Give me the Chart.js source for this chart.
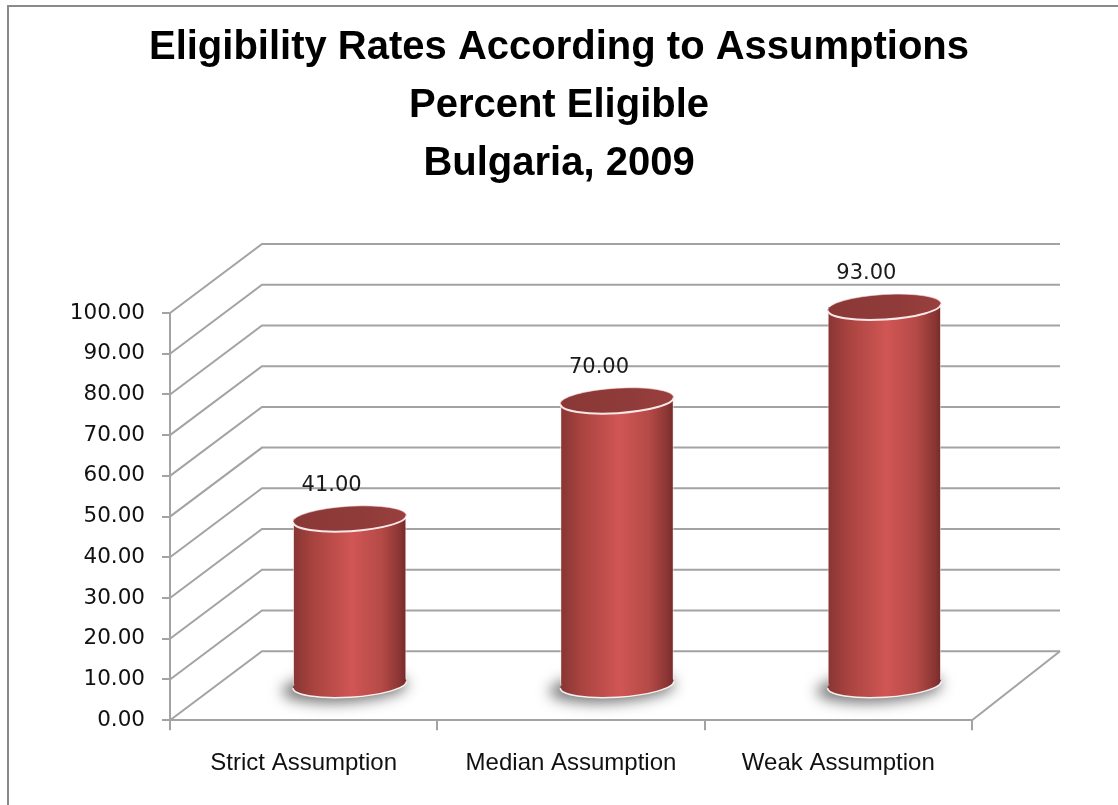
<!DOCTYPE html>
<html><head><meta charset="utf-8">
<script src="https://cdn.jsdelivr.net/npm/chart.js@4.4.1/dist/chart.umd.min.js"></script>
<style>html,body{margin:0;padding:0;background:#fff}#wrap{position:relative;width:1118px;height:805px}</style>
</head><body><div id="wrap"><canvas id="c"></canvas></div>
<script>
// ---- data ----
const categories = ["Strict Assumption", "Median Assumption", "Weak Assumption"];
const eligibleRates = [41, 70, 93];
const titleLines = ["Eligibility Rates According to Assumptions", "Percent Eligible", "Bulgaria, 2009"];
const yMin = 0, yMax = 100, yStep = 10;

// ---- style ----
const DX = 92, DY = 69;           // 3D depth offset of back wall
const BAR_FRAC = 0.425;
const GRID = '#a3a3a3';

function cylGradient(c) {
  const chart = c.chart, xs = chart.scales && chart.scales.x;
  if (!xs || !chart.chartArea) return '#c0504d';
  const cx = xs.getPixelForValue(c.dataIndex);
  const w = xs.width / categories.length * BAR_FRAC;
  const g = chart.ctx.createLinearGradient(cx - w / 2, 0, cx + w / 2, 0);
  g.addColorStop(0, '#873533');
  g.addColorStop(0.18, '#a8433f');
  g.addColorStop(0.52, '#d05654');
  g.addColorStop(0.78, '#b54a47');
  g.addColorStop(0.94, '#8b3634');
  g.addColorStop(1, '#742a29');
  return g;
}

const cylinders = {
  id: 'cylinders',
  beforeDraw(chart) {
    const ctx = chart.ctx;
    ctx.save();
    ctx.fillStyle = '#fff';
    ctx.fillRect(0, 0, chart.width, chart.height);
    ctx.strokeStyle = '#8a8a8a'; ctx.lineWidth = 2;
    ctx.beginPath(); ctx.moveTo(8, chart.height); ctx.lineTo(8, 6); ctx.lineTo(chart.width, 6); ctx.stroke();
    ctx.restore();
  },
  beforeDatasetsDraw(chart) {
    const ctx = chart.ctx, ys = chart.scales.y;
    const L = chart.chartArea.left, R = chart.chartArea.right;
    ctx.save();
    ctx.strokeStyle = GRID; ctx.lineWidth = 2;
    ys.ticks.forEach(t => {
      const y = ys.getPixelForValue(t.value);
      ctx.beginPath(); ctx.moveTo(L, y); ctx.lineTo(L + DX, y - DY); ctx.lineTo(R + DX - 4, y - DY); ctx.stroke();
    });
    const y0 = ys.getPixelForValue(0);
    ctx.beginPath(); ctx.moveTo(R, y0); ctx.lineTo(R + DX - 4, y0 - DY); ctx.stroke();
    // soft shadows under cylinders (shape drawn off-canvas, shadow shifted back)
    const meta = chart.getDatasetMeta(0);
    const OFF = 3000;
    meta.data.forEach(el => {
      const cx = el.x + DX / 2, by = el.base - DY / 2;
      ctx.save();
      ctx.shadowColor = 'rgba(50,50,50,0.65)';
      ctx.shadowBlur = 14;
      ctx.shadowOffsetX = OFF - 5;
      ctx.shadowOffsetY = 3;
      ctx.fillStyle = '#000';
      ctx.beginPath(); ctx.ellipse(cx - OFF, by, el.width / 2 + 6, 15, -0.06, 0, Math.PI * 2); ctx.fill();
      ctx.restore();
    });
    ctx.restore();
    ctx.save();
    ctx.translate(DX / 2, -DY / 2);
  },
  afterDatasetsDraw(chart) {
    const ctx = chart.ctx;
    const meta = chart.getDatasetMeta(0);
    meta.data.forEach((el, i) => {
      const rx = el.width / 2, ry = 12.5, rot = -0.06;
      const grad = cylGradient({chart, dataIndex: i});
      ctx.fillStyle = grad;
      ctx.beginPath(); ctx.ellipse(el.x, el.base, rx, ry, rot, 0, Math.PI * 2); ctx.fill();
      ctx.strokeStyle = 'rgba(255,255,255,0.9)'; ctx.lineWidth = 1.5;
      ctx.beginPath(); ctx.ellipse(el.x, el.base, rx, ry, rot, 0, Math.PI); ctx.stroke();
      const tg = ctx.createLinearGradient(el.x - rx, 0, el.x + rx, 0);
      tg.addColorStop(0, '#8a3836'); tg.addColorStop(0.6, '#8f3b39'); tg.addColorStop(1, '#9a403e');
      ctx.fillStyle = tg;
      ctx.beginPath(); ctx.ellipse(el.x, el.y, rx, ry, rot, 0, Math.PI * 2); ctx.fill();
      ctx.strokeStyle = 'rgba(255,240,240,0.95)'; ctx.lineWidth = 2;
      ctx.beginPath(); ctx.ellipse(el.x, el.y, rx, ry, rot, 0, Math.PI); ctx.stroke();
      ctx.strokeStyle = 'rgba(255,220,220,0.6)'; ctx.lineWidth = 1;
      ctx.beginPath(); ctx.ellipse(el.x, el.y, rx, ry, rot, Math.PI, Math.PI * 2); ctx.stroke();
    });
    ctx.restore();
    ctx.save();
    ctx.fillStyle = '#1a1a1a';
    ctx.font = '21px "DejaVu Sans", Verdana, sans-serif';
    ctx.textAlign = 'center'; ctx.textBaseline = 'middle';
    meta.data.forEach((el, i) => {
      ctx.fillText(eligibleRates[i].toFixed(2), el.x + DX / 2 - 18, el.y - DY / 2 - 33);
    });
    ctx.restore();
  }
};

new Chart(document.getElementById('c'), {
  type: 'bar',
  data: {
    labels: categories,
    datasets: [{
      data: eligibleRates,
      backgroundColor: cylGradient,
      borderWidth: {left: 1, right: 1, top: 0, bottom: 0},
      borderColor: 'rgba(255,235,235,0.7)',
      borderSkipped: false,
      categoryPercentage: 1,
      barPercentage: BAR_FRAC,
      clip: false
    }]
  },
  options: {
    responsive: true,
    maintainAspectRatio: false,
    animation: false,
    events: [],
    layout: {padding: {left: 0, right: 0, top: 0, bottom: 8}},
    plugins: {
      legend: {display: false},
      tooltip: {enabled: false},
      title: {
        display: true,
        text: titleLines,
        color: '#000',
        font: {family: '"Liberation Sans", Arial, sans-serif', weight: 'bold', size: 40, lineHeight: 1.45},
        padding: {top: 19, bottom: 120}
      }
    },
    scales: {
      x: {
        grid: {display: true, drawOnChartArea: false, offset: true, tickLength: 10, color: GRID, lineWidth: 2},
        border: {display: true, color: GRID, width: 2},
        ticks: {color: '#111', padding: 19, font: {family: '"Liberation Sans", Arial, sans-serif', size: 24}}
      },
      y: {
        min: yMin, max: yMax,
        afterFit(s) { s.width = 170; },
        grid: {display: true, drawOnChartArea: false, tickLength: 8, color: GRID, lineWidth: 2},
        border: {display: true, color: GRID, width: 2},
        ticks: {stepSize: yStep, color: '#111', padding: 17, font: {family: '"DejaVu Sans", Verdana, sans-serif', size: 21.5},
          callback: v => Number(v).toFixed(2)}
      },
      yr: {
        position: 'right',
        min: yMin, max: yMax,
        afterFit(s) { s.width = 146; },
        grid: {display: false},
        border: {display: false},
        ticks: {display: false}
      }
    }
  },
  plugins: [cylinders]
});
</script>
</body></html>
